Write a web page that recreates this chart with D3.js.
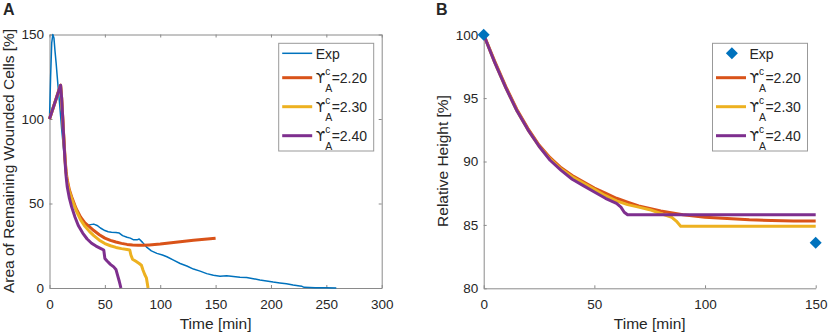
<!DOCTYPE html>
<html>
<head>
<meta charset="utf-8">
<script src="https://cdn.jsdelivr.net/npm/d3@7"></script>
<style>
  body { margin: 0; background: #fff; }
  text { font-family: "Liberation Sans", Arial, sans-serif; fill: #262626; }
</style>
</head>
<body>
<svg id="svg" width="829" height="335"></svg>
<script>
// panel A: area of remaining wounded cells
var expTimeA = [0,1,2,3,4,5,6,7,8,9,10,11,12,13,14,15,17,20,23,26,30,34,37,40,43,46,50,53,56,60,63,66,70,73,76,79,81,84,88,92,97,102,106,112,118,124,130,136,142,148,154,160,166,172,178,184,190,196,202,208,214,220,226,228,230,240,250,259];
var expAreaA = [100,125,145,150,148,140,133,125,117,110,102,94,87,80,74,69,61,53,47,43,39,37,37.5,37.8,37,35.5,34,33.3,33,32.8,32.5,31,30,29.5,28.5,28.5,29,27,24,22,20.5,19.5,18.5,16.5,14.5,13,11.2,10,8.5,7.5,7,7.2,6.8,6.3,6.2,5.5,4.7,4.2,3.5,3,2.5,1.8,1.2,1,0.4,0.2,0.1,0];

var timeA220 = [0,2,4,6,8,10,11,12,13,14,15,16,18,20,24,28,32,36,40,45,50,55,60,65,70,75,80,85,90,100,110,120,130,140,150];
var areaA220 = [100,104,108,112,116,120,112,100,88,77,69,64,58,54,47,42,38.5,36.3,34,31.5,29.5,28.2,27.2,26.4,25.8,25.5,25.3,25.3,25.5,26,26.8,27.5,28.2,28.8,29.5];

var timeA230 = [0,2,4,6,8,10,11,12,13,14,15,16,18,20,24,28,32,36,40,45,50,55,60,65,70,72.5,73.5,75,78,81,83,84.5,86,87.5,89];
var areaA230 = [100,104,108,112,116,120,112,100,88,76,68,63,57,53,46,40.5,36.5,33.5,31,28.3,26.3,25,24,23.3,22.8,22.5,19.5,17,15.8,14.5,13.5,10.5,8,6,0];

var timeA240 = [0,2,4,6,8,10,11,12,13,14,15,16,18,20,23,26,30,34,38,42,46,49,50,52,55,58,60,61.5,63,64.5];
var areaA240 = [100,104,108,112,116,120,112,100,87,75,66,60,53,48,42,37,32.5,29,26.5,24.8,23.5,22.5,17.5,16,14,12.5,11,7.5,4,0];

// panel B: relative height
var expTimeB = [0,150];
var expHeightB = [100,83.6];

var timeB220 = [0,5,10,15,20,25,30,35,40,45,50,55,60,65,70,75,80,90,100,110,120,130,140,150];
var heightB220 = [100,97.9,95.9,94.1,92.6,91.3,90.3,89.5,88.9,88.4,87.9,87.5,87.1,86.8,86.5,86.3,86.1,85.8,85.6,85.5,85.4,85.35,85.3,85.3];

var timeB230 = [0,5,10,15,20,25,30,35,40,45,50,55,60,65,70,75,80,85,87,89,150];
var heightB230 = [100,97.8,95.8,94.0,92.5,91.2,90.2,89.4,88.8,88.3,87.8,87.3,86.9,86.6,86.4,86.2,85.9,85.6,85.3,84.9,84.9];

var timeB240 = [0,5,10,15,20,25,30,35,40,45,50,55,60,62,63.5,65,150];
var heightB240 = [100,97.8,95.8,94.0,92.5,91.2,90.1,89.3,88.6,88.1,87.6,87.1,86.7,86.4,86.0,85.8,85.8];

var ticksXA = [0,50,100,150,200,250,300];
var ticksYA = [0,50,100,150];
var ticksXB = [0,50,100,150];
var ticksYB = [80,85,90,95,100];

var seriesNames = ["Exp","2.20","2.30","2.40"];
var colors = ["#0072BD","#D95319","#EDB120","#7E2F8E"];
var axisColor = "#8a8a8a";

var svg = d3.select("#svg");

function zip(t, v) { return t.map(function(d,i){ return [d, v[i]]; }); }

function styleAxis(g) {
    g.selectAll(".domain").attr("stroke", axisColor);
    g.selectAll(".tick line").attr("stroke", axisColor);
    g.selectAll(".tick text").attr("fill", "#262626").style("font-size", "13.5px");
}

// ---------- panel A ----------
var xA = d3.scaleLinear().domain([0,300]).range([49.5,381.7]);
var yA = d3.scaleLinear().domain([0,150]).range([288,34.5]);

var gA = svg.append("g");

gA.append("g").attr("transform","translate(0,288)")
    .call(d3.axisBottom(xA).tickValues(ticksXA).tickSizeInner(-3).tickSizeOuter(0).tickPadding(11))
    .call(styleAxis);
gA.append("g").attr("transform","translate(0,34.5)")
    .call(d3.axisTop(xA).tickValues(ticksXA).tickSizeInner(-3).tickSizeOuter(0).tickFormat(""))
    .call(styleAxis);
gA.append("g").attr("transform","translate(49.5,0)")
    .call(d3.axisLeft(yA).tickValues(ticksYA).tickSizeInner(-3).tickSizeOuter(0).tickPadding(5.5))
    .call(styleAxis);
gA.append("g").attr("transform","translate(381.7,0)")
    .call(d3.axisRight(yA).tickValues(ticksYA).tickSizeInner(-3).tickSizeOuter(0).tickFormat(""))
    .call(styleAxis);

var lineA = d3.line().x(function(d){ return xA(d[0]); }).y(function(d){ return yA(d[1]); });

var dataA = [zip(expTimeA,expAreaA), zip(timeA220,areaA220), zip(timeA230,areaA230), zip(timeA240,areaA240)];
dataA.forEach(function(d,i) {
    gA.append("path").datum(d)
      .attr("d", lineA)
      .attr("fill","none")
      .attr("stroke", colors[i])
      .attr("stroke-width", i == 0 ? 1.5 : 3)
      .attr("stroke-linejoin","round");
});

gA.append("text").attr("x",215.6).attr("y",328.5).attr("text-anchor","middle")
    .style("font-size","15.5px").text("Time [min]");
gA.append("text").attr("transform","translate(14,161) rotate(-90)").attr("text-anchor","middle")
    .style("font-size","15.5px").text("Area of Remaining Wounded Cells [%]");
gA.append("text").attr("x",3).attr("y",15).style("font-size","16px").style("font-weight","bold").text("A");

// ---------- panel B ----------
var xB = d3.scaleLinear().domain([0,150]).range([483.7,815.7]);
var yB = d3.scaleLinear().domain([80,100]).range([288.3,34.7]);

var gB = svg.append("g");

gB.append("g").attr("transform","translate(0,288.3)")
    .call(d3.axisBottom(xB).tickValues(ticksXB).tickSizeInner(-3).tickSizeOuter(0).tickPadding(11))
    .call(styleAxis);
gB.append("g").attr("transform","translate(483.7,0)")
    .call(d3.axisLeft(yB).tickValues(ticksYB).tickSizeInner(-3).tickSizeOuter(0).tickPadding(5.5))
    .call(styleAxis);

var lineB = d3.line().x(function(d){ return xB(d[0]); }).y(function(d){ return yB(d[1]); });

var dataB = [zip(timeB220,heightB220), zip(timeB230,heightB230), zip(timeB240,heightB240)];
dataB.forEach(function(d,i) {
    gB.append("path").datum(d)
      .attr("d", lineB)
      .attr("fill","none")
      .attr("stroke", colors[i+1])
      .attr("stroke-width", 3)
      .attr("stroke-linejoin","round");
});

var diamond = d3.symbol().type(d3.symbolSquare).size(72);
gB.selectAll(".exp").data(zip(expTimeB,expHeightB)).enter().append("path")
    .attr("d", diamond)
    .attr("transform", function(d){ return "translate(" + xB(d[0]) + "," + yB(d[1]) + ") rotate(45)"; })
    .attr("fill", colors[0]);

gB.append("text").attr("x",649.7).attr("y",328.5).attr("text-anchor","middle")
    .style("font-size","15.5px").text("Time [min]");
gB.append("text").attr("transform","translate(447.5,161) rotate(-90)").attr("text-anchor","middle")
    .style("font-size","15.5px").text("Relative Height [%]");
gB.append("text").attr("x",436).attr("y",15).style("font-size","16px").style("font-weight","bold").text("B");

// ---------- legends ----------
var rowY = [53.3, 77.7, 106.7, 135.7];

function legend(g, bx, expMarker) {
    g.append("rect").attr("x",bx).attr("y",43.3).attr("width",95).attr("height",107.7)
        .attr("fill","#fff").attr("stroke","#999").attr("stroke-width",1);
    seriesNames.forEach(function(name,i) {
        var y = rowY[i];
        if (i == 0 && expMarker) {
            g.append("path").attr("d", diamond)
              .attr("transform","translate(" + (bx+19.4) + "," + y + ") rotate(45)")
              .attr("fill", colors[0]);
        } else {
            g.append("line").attr("x1",bx+3.5).attr("x2",bx+33.5).attr("y1",y).attr("y2",y)
              .attr("stroke",colors[i]).attr("stroke-width", i == 0 ? 1.5 : 3);
        }
        var tx = bx + 37;
        if (i == 0) {
            g.append("text").attr("x",tx).attr("y",y+5.5).style("font-size","14px").text("Exp");
        } else {
            // hooked upsilon, taken from DejaVu which has the glyph
            var u = g.append("text").attr("x",tx).attr("y",y+5.6)
                .style("font-size","13.5px").style("font-family","'DejaVu Sans'").text("\u03D2");
            var w = u.node().getComputedTextLength();
            g.append("text").attr("x",tx+w).attr("y",y-2.5).style("font-size","10px").text("c");
            g.append("text").attr("x",tx+w).attr("y",y+14).style("font-size","10.5px").text("A");
            g.append("text").attr("x",tx+w+6.5).attr("y",y+5.6).style("font-size","14px").text("=" + name);
        }
    });
}

legend(gA, 278.7, false);
legend(gB, 712.5, true);
</script>
</body>
</html>
